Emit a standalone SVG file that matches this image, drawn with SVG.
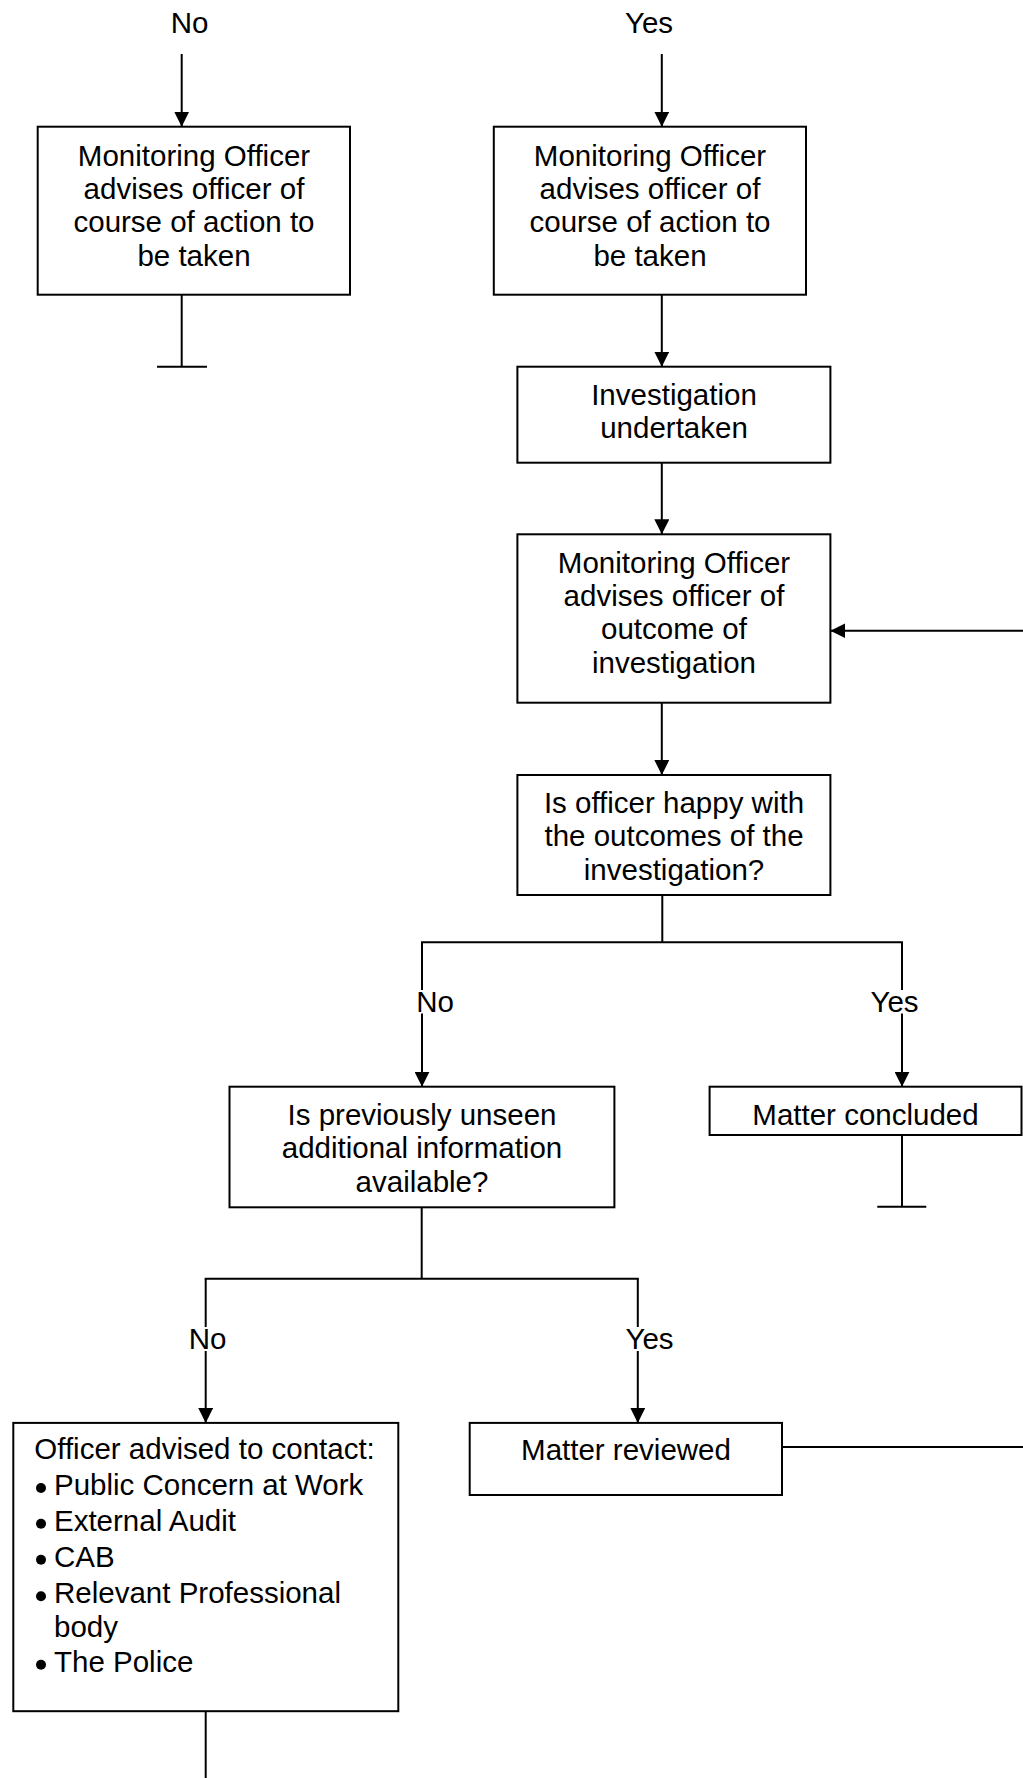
<svg xmlns="http://www.w3.org/2000/svg" width="1023" height="1778" viewBox="0 0 1023 1778">
<defs>
<style>
.box{fill:#fff;stroke:#000;stroke-width:2}
.t{font-family:"Liberation Sans",Arial,Helvetica,sans-serif;font-size:29.5px;fill:#000}
.c{text-anchor:middle}
.dot{fill:#000}
.ln{fill:none;stroke:#000;stroke-width:2}
.bg{fill:#fff;stroke:none}
</style>
<marker id="ah" markerUnits="userSpaceOnUse" markerWidth="16" markerHeight="15" refX="15" refY="7.5" orient="auto">
<path d="M0,0 L15,7.5 L0,15 Z" fill="#000"/>
</marker>
</defs>
<rect width="1023" height="1778" fill="#fff"/>

<g id="connectors">
<line class="ln" x1="181.7" y1="54" x2="181.7" y2="126.7" marker-end="url(#ah)"/>
<line class="ln" x1="661.8" y1="54" x2="661.8" y2="126.7" marker-end="url(#ah)"/>
<line class="ln" x1="181.7" y1="294.7" x2="181.7" y2="366.7"/>
<line class="ln" x1="157" y1="366.7" x2="207" y2="366.7"/>
<line class="ln" x1="661.8" y1="294.7" x2="661.8" y2="366.7" marker-end="url(#ah)"/>
<line class="ln" x1="661.8" y1="462.7" x2="661.8" y2="534.3" marker-end="url(#ah)"/>
<line class="ln" x1="1023" y1="630.7" x2="830.4" y2="630.7" marker-end="url(#ah)"/>
<line class="ln" x1="661.8" y1="702.7" x2="661.8" y2="775" marker-end="url(#ah)"/>
<path class="ln" d="M662.3,895 V942.3 M421,942.3 H903"/>
<line class="ln" x1="422" y1="942.3" x2="422" y2="1086.7" marker-end="url(#ah)"/>
<line class="ln" x1="902" y1="942.3" x2="902" y2="1086.7" marker-end="url(#ah)"/>
<line class="ln" x1="902" y1="1135" x2="902" y2="1206.7"/>
<line class="ln" x1="877.3" y1="1206.7" x2="926.3" y2="1206.7"/>
<path class="ln" d="M421.7,1207.3 V1278.8 M204.7,1278.8 H638.8"/>
<line class="ln" x1="205.7" y1="1278.8" x2="205.7" y2="1422.9" marker-end="url(#ah)"/>
<line class="ln" x1="637.8" y1="1278.8" x2="637.8" y2="1422.9" marker-end="url(#ah)"/>
<line class="ln" x1="782" y1="1446.9" x2="1023" y2="1446.9"/>
<line class="ln" x1="205.7" y1="1711.2" x2="205.7" y2="1778"/>
<text class="t c" x="189.5" y="33.3">No</text>
<text class="t c" x="649" y="33.3">Yes</text>
<rect class="bg" x="415" y="990" width="40" height="23.5"/>
<text class="t c" x="435" y="1011.7">No</text>
<rect class="bg" x="868" y="990" width="53" height="23.5"/>
<text class="t c" x="894.5" y="1011.7">Yes</text>
<rect class="bg" x="188" y="1327" width="40" height="24"/>
<text class="t c" x="207.5" y="1349.1">No</text>
<rect class="bg" x="623" y="1327" width="53" height="24"/>
<text class="t c" x="649.5" y="1349.1">Yes</text>
</g>

<g id="n1">
<rect class="box" x="37.7" y="126.7" width="312.3" height="168"/>
<text class="t c" x="194" y="165.7">Monitoring Officer</text>
<text class="t c" x="194" y="199">advises officer of</text>
<text class="t c" x="194" y="232.3">course of action to</text>
<text class="t c" x="194" y="265.6">be taken</text>
</g>

<g id="n2">
<rect class="box" x="493.8" y="126.7" width="312.2" height="168"/>
<text class="t c" x="650" y="165.7">Monitoring Officer</text>
<text class="t c" x="650" y="199">advises officer of</text>
<text class="t c" x="650" y="232.3">course of action to</text>
<text class="t c" x="650" y="265.6">be taken</text>
</g>

<g id="n3">
<rect class="box" x="517.4" y="366.7" width="313" height="96"/>
<text class="t c" x="674" y="405">Investigation</text>
<text class="t c" x="674" y="438.3">undertaken</text>
</g>

<g id="n4">
<rect class="box" x="517.4" y="534.3" width="313" height="168.4"/>
<text class="t c" x="674" y="572.7">Monitoring Officer</text>
<text class="t c" x="674" y="606">advises officer of</text>
<text class="t c" x="674" y="639.3">outcome of</text>
<text class="t c" x="674" y="672.6">investigation</text>
</g>

<g id="n5">
<rect class="box" x="517.4" y="775" width="313" height="120"/>
<text class="t c" x="674" y="813">Is officer happy with</text>
<text class="t c" x="674" y="846.3">the outcomes of the</text>
<text class="t c" x="674" y="879.6">investigation?</text>
</g>

<g id="n6">
<rect class="box" x="229.5" y="1086.7" width="384.9" height="120.6"/>
<text class="t c" x="422" y="1125">Is previously unseen</text>
<text class="t c" x="422" y="1158.3">additional information</text>
<text class="t c" x="422" y="1191.6">available?</text>
</g>

<g id="n7">
<rect class="box" x="709.6" y="1086.7" width="311.9" height="48.3"/>
<text class="t c" x="865.5" y="1125">Matter concluded</text>
</g>

<g id="n8">
<rect class="box" x="13.3" y="1422.9" width="385" height="288.3"/>
<text class="t" x="34.3" y="1459.3">Officer advised to contact:</text>
<circle class="dot" cx="41" cy="1488" r="5"/><text class="t" x="54" y="1495">Public Concern at Work</text>
<circle class="dot" cx="41" cy="1523.7" r="5"/><text class="t" x="54" y="1530.7">External Audit</text>
<circle class="dot" cx="41" cy="1559.7" r="5"/><text class="t" x="54" y="1566.7">CAB</text>
<circle class="dot" cx="41" cy="1596.3" r="5"/><text class="t" x="54" y="1603.3">Relevant Professional</text>
<text class="t" x="54" y="1636.7">body</text>
<circle class="dot" cx="41" cy="1664.7" r="5"/><text class="t" x="54" y="1671.7">The Police</text>
</g>

<g id="n9">
<rect class="box" x="469.7" y="1422.9" width="312.3" height="72.1"/>
<text class="t c" x="626" y="1459.6">Matter reviewed</text>
</g>
</svg>
